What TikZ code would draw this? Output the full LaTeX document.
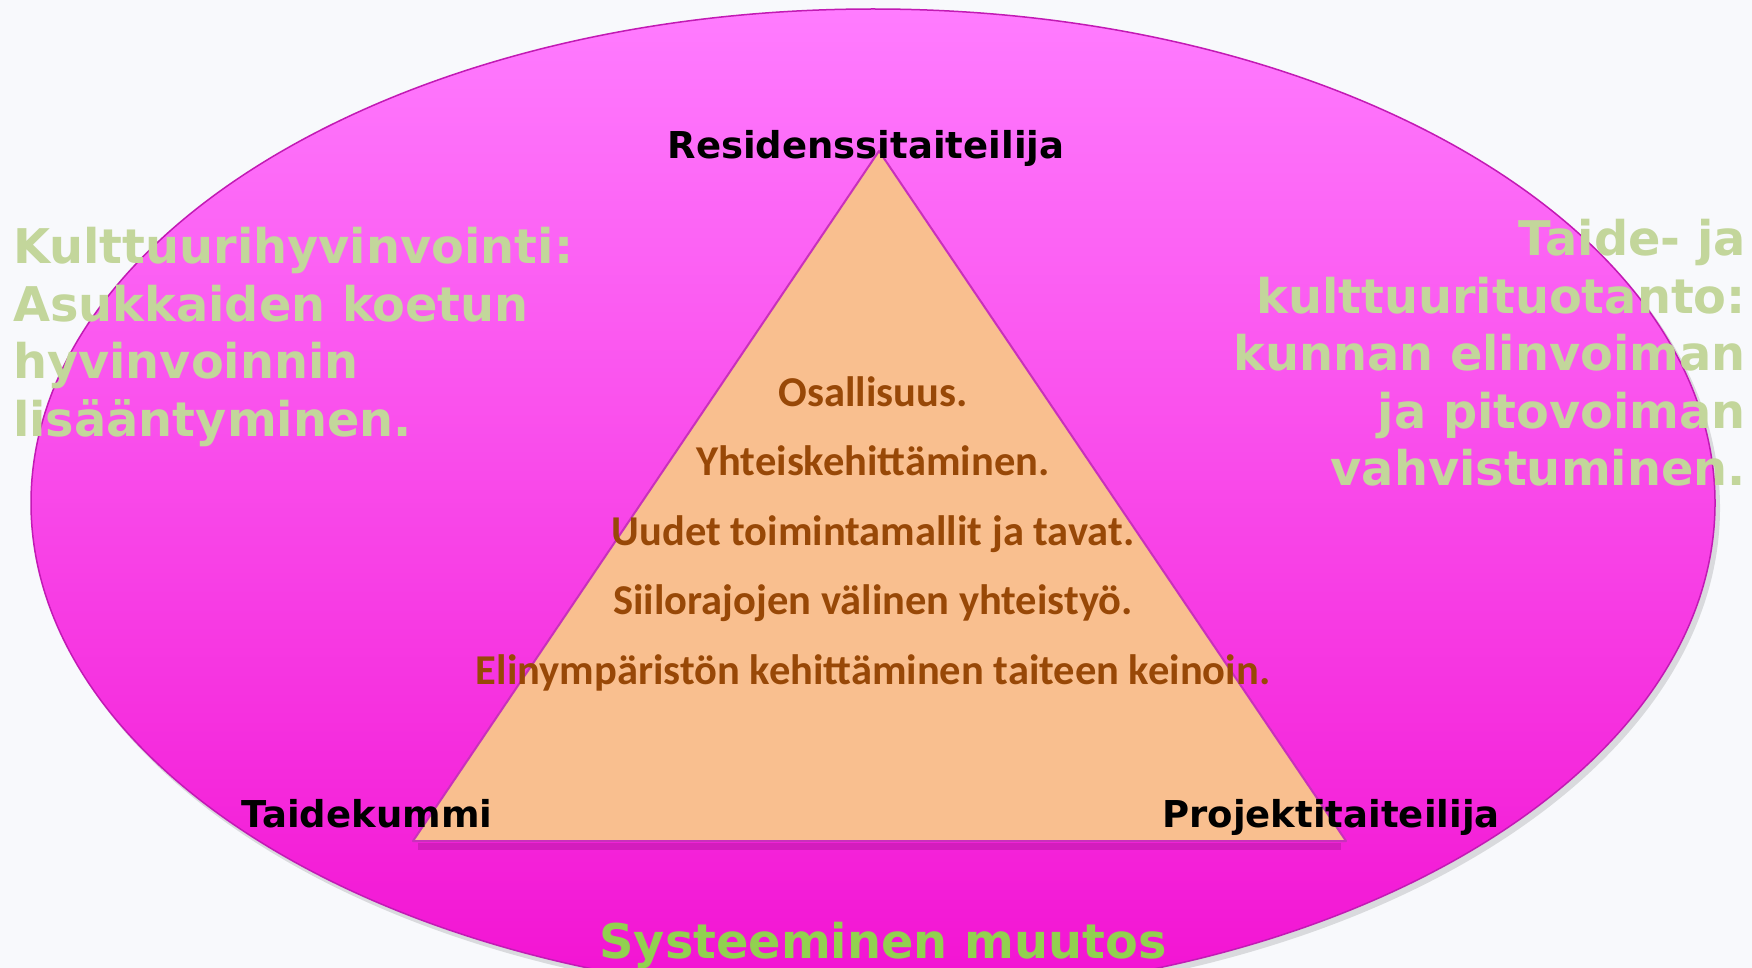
\documentclass[tikz,border=0pt]{standalone}
\usepackage{fontspec}
\setmainfont{DejaVu Sans}
\newfontfamily\carlito{Carlito}
\usetikzlibrary{positioning}
\definecolor{pagebg}{HTML}{F8F9FC}
\definecolor{ovaltop}{HTML}{FF7CFF}
\definecolor{ovalbot}{HTML}{F212D2}
\definecolor{ovalline}{HTML}{C21AB4}
\definecolor{peach}{HTML}{F9BF8F}
\definecolor{softgreen}{HTML}{C3D69B}
\definecolor{brightgreen}{HTML}{92D050}
\definecolor{brownish}{HTML}{984807}
\tikzstyle{oval} = [draw=ovalline, line width=1.5pt, top color=ovaltop, bottom color=ovalbot]
\tikzstyle{tri} = [draw=ovalline!90, line width=2pt, fill=peach, line join=round]
\tikzstyle{corner} = [font=\fontsize{37}{44}\selectfont\bfseries, text=black, anchor=base, inner sep=0pt]
\tikzstyle{goal} = [font=\fontsize{47.8}{57.5}\selectfont\bfseries, text=softgreen, inner sep=0pt]
\tikzstyle{aim} = [font=\carlito\fontsize{42.5}{48}\selectfont\bfseries, text=brownish, anchor=base, inner sep=0pt]

\begin{document}
\begin{tikzpicture}[x=1pt,y=-1pt]

\useasboundingbox (0,0) rectangle (1752,968);
\clip (0,0) rectangle (1752,968);
\fill[pagebg] (0,0) rectangle (1752,968);

% outer oval
\fill[black, opacity=0.12] (877,508) ellipse [x radius=843, y radius=495];
\path[oval] (873,503) ellipse [x radius=842, y radius=494];

% triangle
\coordinate (apex) at (879,151);
\coordinate (left) at (413,841);
\coordinate (right) at (1346,841);
\draw[line width=7pt, draw=ovalline!70!black, opacity=0.3] (418,846) -- (1341,846);
\path[tri] (apex) -- (right) -- (left) -- cycle;

\node (resid) [corner] at (866,159) {Residenssitaiteilija};
\node (kummi) [corner] at (367,827) {Taidekummi};
\node (proj) [corner] at (1331,827) {Projektitaiteilija};

\node (a1) [aim] at (873,406) {Osallisuus.};
\node (a2) [aim] at (873,475) {Yhteiskehittäminen.};
\node (a3) [aim] at (873,545) {Uudet toimintamallit ja tavat.};
\node (a4) [aim] at (873,614) {Siilorajojen välinen yhteistyö.};
\node (a5) [aim] at (873,684) {Elinympäristön kehittäminen taiteen keinoin.};

\node (wellbeing) [goal, align=left, anchor=north west] at (13,227)
  {Kulttuurihyvinvointi:\\Asukkaiden koetun\\hyvinvoinnin\\lisääntyminen.};
\node (culture) [goal, align=right, anchor=north east] at (1746,219)
  {Taide- ja\\kulttuurituotanto:\\kunnan elinvoiman\\ja pitovoiman\\vahvistuminen.};

\node (change) [goal, text=brightgreen, anchor=base] at (883,958) {Systeeminen muutos};

\end{tikzpicture}
\end{document}
